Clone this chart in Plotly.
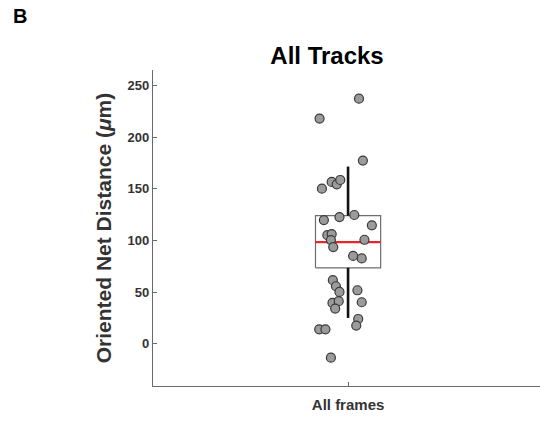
import plotly.graph_objects as go

# ---- data ----
category = ["All frames"]
values = [237.2, 218.0, 177.3, 150.1, 156.6, 154.3, 158.5,
          119.7, 122.6, 124.6, 114.6, 105.1, 106.1, 100.3, 93.5, 100.6, 85.0, 82.5,
          61.5, 55.6, 50.1, 51.7, 39.4, 41.1, 34.0, 40.1, 23.9, 17.5, 13.9, 13.9, -13.6]
jitter = [0.028, -0.073, 0.038, -0.067, -0.042, -0.029, -0.020,
          -0.062, -0.022, 0.016, 0.061, -0.053, -0.042, -0.044, -0.038, 0.042, 0.013, 0.035,
          -0.039, -0.031, -0.022, 0.024, -0.040, -0.024, -0.033, 0.035, 0.026, 0.021, -0.074, -0.058, -0.044]
q1, median, q3 = 73.4, 98.3, 123.9
lower_whisker, upper_whisker = 24.9, 171.5
y_ticks = [0, 50, 100, 150, 200, 250]

center = 1.0
half_w = 0.0835

fig = go.Figure()

# box outline
fig.add_trace(go.Scatter(
    x=[center - half_w, center + half_w, center + half_w, center - half_w, center - half_w],
    y=[q1, q1, q3, q3, q1], mode="lines",
    line=dict(color="#6e6e6e", width=1.2), hoverinfo="skip", showlegend=False))
# whiskers
fig.add_trace(go.Scatter(
    x=[center, center, None, center, center],
    y=[q3, upper_whisker, None, q1, lower_whisker], mode="lines",
    line=dict(color="#111111", width=2.6), hoverinfo="skip", showlegend=False))
# median
fig.add_trace(go.Scatter(
    x=[center - half_w, center + half_w], y=[median, median], mode="lines",
    line=dict(color="#e8262a", width=2.2), hoverinfo="skip", showlegend=False))
# points
fig.add_trace(go.Scatter(
    x=[center + j for j in jitter], y=values, mode="markers",
    marker=dict(size=9, color="#9b9b9b", line=dict(color="#3a3a3a", width=1.2)),
    showlegend=False))

fig.update_layout(
    width=540, height=423,
    margin=dict(l=153, r=0, t=70, b=37),
    paper_bgcolor="white", plot_bgcolor="white",
    font=dict(family="Liberation Sans, Arial, sans-serif", color="#333333"),
    title=dict(text="<b>All Tracks</b>", x=327 / 540, xanchor="center",
               y=1 - 56 / 423, yanchor="middle",
               font=dict(size=24, color="#000000")),
    xaxis=dict(range=[0.5, 1.492], tickvals=[center], ticktext=["<b>" + category[0] + "</b>"],
               showgrid=False, zeroline=False, showline=True, linecolor="#6a6a6a", linewidth=1.2,
               ticks="inside", ticklen=4, tickcolor="#6a6a6a", ticklabelstandoff=5,
               tickfont=dict(size=15, color="#333333")),
    yaxis=dict(range=[-41, 265], tickvals=y_ticks, ticktext=["<b>%d</b>" % t for t in y_ticks],
               showgrid=False, zeroline=False, showline=True, linecolor="#6a6a6a", linewidth=1.2,
               ticks="inside", ticklen=4, tickcolor="#6a6a6a",
               tickfont=dict(size=13, color="#333333"),
               title=dict(text="<b>Oriented Net Distance (<i>μ</i>m)</b>",
                          font=dict(size=21, color="#333333"), standoff=10)),
)

fig.add_annotation(text="<b>B</b>", x=(11 - 153) / 387, y=(386 - 16) / 316,
                   xref="paper", yref="paper",
                   xanchor="left", yanchor="middle", showarrow=False,
                   font=dict(size=20, color="#000000"))

fig.write_html("out.html")
